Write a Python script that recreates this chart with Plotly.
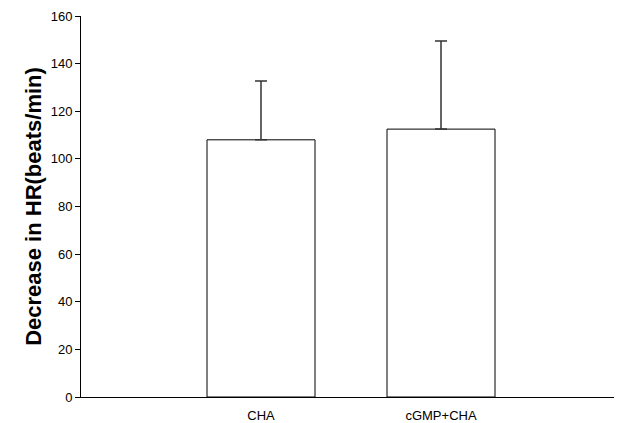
import plotly.graph_objects as go

categories = ["CHA", "cGMP+CHA"]
means = [108, 112.5]
errors_up = [24.7, 37]
x_pos = [1, 2]
y_ticks = [0, 20, 40, 60, 80, 100, 120, 140, 160]

fig = go.Figure()
fig.add_trace(go.Bar(
    x=x_pos, y=means, width=0.6,
    marker=dict(color="white", line=dict(color="black", width=1)),
    error_y=dict(type="data", symmetric=False, array=errors_up,
                 arrayminus=[0, 0], color="#333333", thickness=1.5, width=6),
))

fig.update_layout(
    width=614, height=415,
    margin=dict(l=73, r=1, t=8, b=26),
    paper_bgcolor="white", plot_bgcolor="white",
    showlegend=False,
    font=dict(family="Liberation Sans, Arial", color="black"),
    xaxis=dict(range=[0, 3], tickmode="array", tickvals=x_pos, ticktext=categories,
               showline=True, linecolor="black", linewidth=1, ticks="",
               showgrid=False, zeroline=False, tickfont=dict(size=13),
               ticklabelstandoff=6, automargin=False),
    yaxis=dict(range=[0, 160], tickmode="array", tickvals=y_ticks,
               showline=True, linecolor="black", linewidth=1, ticks="outside",
               ticklen=5, tickcolor="black", showgrid=False, zeroline=False,
               tickfont=dict(size=13), automargin=False,
               title=dict(text="<b>Decrease in HR(beats/min)</b>",
                          font=dict(size=22), standoff=2)),
)

fig.write_html("out.html")
